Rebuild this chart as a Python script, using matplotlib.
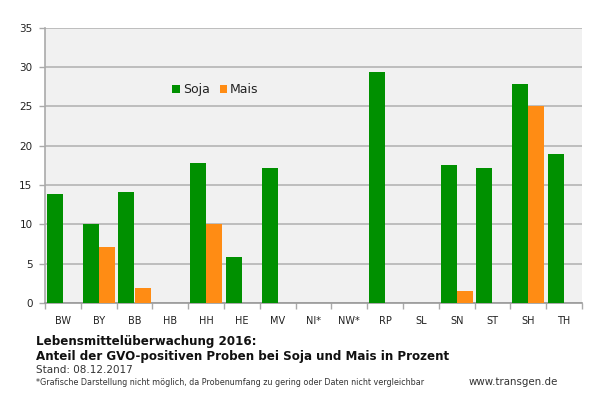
import matplotlib
matplotlib.use("Agg")
import numpy as np
import matplotlib.pyplot as plt

plt.rcParams['font.family'] = ['DejaVu Sans']

states = ["BW", "BY", "BB", "HB", "HH", "HE", "MV", "NI*", "NW*", "RP", "SL", "SN", "ST", "SH", "TH"]
soja = [13.8, 10.0, 14.1, 0, 17.8, 5.8, 17.2, 0, 0, 29.4, 0, 17.5, 17.1, 27.8, 18.9]
mais = [0, 7.1, 1.9, 0, 10.0, 0, 0, 0, 0, 0, 0, 1.5, 0, 25.0, 0]
yticks = [0, 5, 10, 15, 20, 25, 30, 35]

fig = plt.figure(figsize=(6.10, 4.07), dpi=100)
ax = fig.add_axes([45 / 610, 1 - 303 / 407, 537 / 610, 275.5 / 407])
ax.set_facecolor("#f1f1f1")

x = np.arange(len(states))
width = 0.45
ax.bar(x - width / 2, soja, width, color="#009000", label="Soja", zorder=3)
ax.bar(x + width / 2, mais, width, color="#ff8c14", label="Mais", zorder=3)

ax.set_xlim(-0.5, len(states) - 0.5)
ax.set_ylim(0, 35)
ax.set_yticks(yticks)
ax.set_xticks(x)
ax.set_xticklabels(states)
ax.tick_params(axis="y", labelsize=7.5, length=4, width=1, color="#aaaaaa", labelcolor="#222222", pad=5)
ax.tick_params(axis="x", labelsize=7, length=0, pad=9, labelcolor="#222222")
ax.set_xticks(np.arange(len(states) + 1) - 0.5, minor=True)
ax.tick_params(axis="x", which="minor", length=4, width=1, color="#aaaaaa")
ax.grid(axis="y", color="#b4b4b4", linewidth=1.2)
ax.set_axisbelow(True)
for name in ["top", "right"]:
    ax.spines[name].set_visible(False)
ax.spines["left"].set_color("#aaaaaa")
ax.spines["left"].set_linewidth(1.2)
ax.spines["bottom"].set_color("#999999")
ax.spines["bottom"].set_linewidth(1.2)

ax.legend(loc="center left", bbox_to_anchor=(127 / 537, 1 - 62 / 275.5), ncol=2, frameon=False, fontsize=9,
          handlelength=0.6, handleheight=0.6, handletextpad=0.25, columnspacing=0.8, borderpad=0,
          borderaxespad=0, labelcolor="#222222")

fig.text(36 / 610, 1 - 345 / 407, "Lebensmittelüberwachung 2016:", fontsize=8.6, fontweight="bold", va="baseline", color="#111111")
fig.text(36 / 610, 1 - 360 / 407, "Anteil der GVO-positiven Proben bei Soja und Mais in Prozent", fontsize=8.6, fontweight="bold", va="baseline", color="#111111")
fig.text(36 / 610, 1 - 373 / 407, "Stand: 08.12.2017", fontsize=7.5, va="baseline", color="#333333")
fig.text(36 / 610, 1 - 385 / 407, "*Grafische Darstellung nicht möglich, da Probenumfang zu gering oder Daten nicht vergleichbar", fontsize=5.8, va="baseline", color="#333333")
fig.text(469 / 610, 1 - 385 / 407, "www.transgen.de", fontsize=7.4, va="baseline", color="#333333")

fig.savefig("out.png", dpi=100)
plt.close(fig)
